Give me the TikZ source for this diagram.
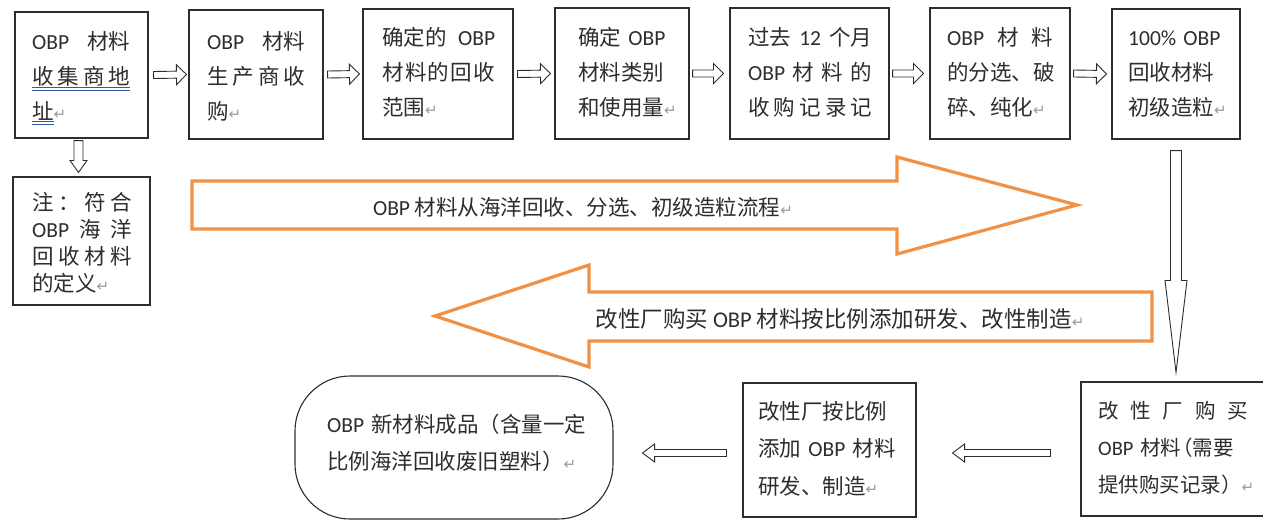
\documentclass[tikz,border=0pt]{standalone}
\usepackage{fontspec}
\setmainfont{Noto Sans CJK SC}
\newfontfamily\lat{Carlito}
\newfontfamily\dv{DejaVu Sans}
\usetikzlibrary{calc}
\definecolor{txt}{RGB}{45,45,45}
\definecolor{edge}{RGB}{45,45,45}
\definecolor{org}{RGB}{240,145,70}
\definecolor{retgray}{RGB}{155,155,155}
\definecolor{ulblue}{RGB}{50,90,160}
\newcommand\rt{{\dv\color{retgray}\fontsize{15pt}{15pt}\selectfont ↵}}
\newcommand\obp{{\lat OBP}}
% box from corner (x1,y1) to (x2,y2), in pixels
\newcommand\bx[6][box]{\node[#1, minimum width=#5pt-#3pt, minimum height=#6pt-#4pt] (#2) at ({(#3+#5)/2},{(#4+#6)/2}) {};}
\newcommand\blockarrow[6][]{%
  \path ($(#3)!#6!(#2)$) coordinate (bahead);
  \draw[#1] ($(#2)!#4!90:(#3)$) -- ($(bahead)!#4!90:(#3)$) -- ($(bahead)!#5!90:(#3)$) -- (#3)
    -- ($(bahead)!#5!-90:(#3)$) -- ($(bahead)!#4!-90:(#3)$) -- ($(#2)!#4!-90:(#3)$) -- cycle;}
\tikzset{
  box/.style={draw=edge, line width=1.1pt, inner sep=0pt},
  termbox/.style={box, rounded corners=55pt},
  tx/.style={anchor=base west, inner sep=0pt, align=left, text=txt,
    font=\fontsize{21.5pt}{35pt}\selectfont},
  notetx/.style={tx, font=\fontsize{21.5pt}{27pt}\selectfont},
  lowtx/.style={tx, font=\fontsize{21.5pt}{37.5pt}\selectfont},
  harrow/.style={draw=edge, line width=0.9pt, fill=white, line join=miter},
  bigarrow/.style={draw=org, line width=3.2pt, line join=miter},
  lbl/.style={text=txt, inner sep=0pt, font=\fontsize{21.5pt}{26pt}\selectfont},
  uline/.style={draw=ulblue, line width=0.8pt},
}
\begin{document}
\begin{tikzpicture}[x=1pt,y=-1pt]
\clip (0,0) rectangle (1263,520);
\fill[white] (0,0) rectangle (1263,520);

% ---- boxes
\bx{b1}{15}{12}{148}{138}
\bx{b2}{189}{10}{323}{139}
\bx{b3}{363}{9}{513}{139}
\bx{b4}{555}{8}{689}{139}
\bx{b5}{730}{8}{889}{139}
\bx{b6}{930}{8}{1070}{139}
\bx{b7}{1112}{9}{1240}{139}
\bx{n1}{13}{177}{150}{305}
\bx{r1}{1081}{382}{1270}{516}
\bx{m1}{743}{383}{916}{517}
\bx[termbox]{t1}{295}{376}{613}{519}

% ---- box texts
\node[tx, text width=98pt] (b1t) at (32,49)
  {\obp\hfill 材料\\收\hfill 集\hfill 商\hfill 地\\址\rt};
\draw[uline] (32,87) -- (130,87) (32,90) -- (130,90);
\draw[uline] (32,121) -- (54,121) (32,124) -- (54,124);
\node[tx, text width=98pt] (b2t) at (207,49)
  {\obp\hfill 材料\\生\hfill 产\hfill 商\hfill 收\\购\rt};
\node[tx, text width=113pt] (b3t) at (382,45)
  {确定的\hfill\obp\\材\hfill 料\hfill 的\hfill 回\hfill 收\\范围\rt};
\node[tx, text width=92pt] (b4t) at (578,45)
  {确定 \obp\\材料类别\\和使用量\rt};
\node[tx, text width=124pt] (b5t) at (748,45)
  {过去\hfill{\lat 12}\hfill 个月\\\obp\hfill 材\hfill 料\hfill 的\\收\hfill 购\hfill 记\hfill 录\hfill 记};
\node[tx, text width=106pt] (b6t) at (947,45)
  {\obp\hfill 材\hfill 料\\的分选、破\\碎、纯化\rt};
\node[tx, text width=100pt] (b7t) at (1128,45)
  {{\lat 100\% OBP}\\回收材料\\初级造粒\rt};
\node[notetx, text width=100pt] (n1t) at (32,210)
  {注\hfill ：\hfill 符\hfill 合\\\obp\hfill 海\hfill 洋\\回\hfill 收\hfill 材\hfill 料\\的定义\rt};
\node[lowtx, font=\fontsize{20.5pt}{37pt}\selectfont, text width=160pt] (r1t) at (1098,418)
  {\makebox[150pt][l]{改\hfill 性\hfill 厂\hfill 购\hfill 买}\\\obp\ 材料\kern-9pt（需要\\提供购买记录）\rt};
\node[lowtx, text width=140pt] (m1t) at (758,419)
  {改性厂按比例\\添加 \obp\ 材料\\研发、制造\rt};
\node[lowtx, text width=270pt] (t1t) at (327,432)
  {\obp\ 新材料成品（含量一定\\比例海洋回收废旧塑料）\rt};

% ---- small hollow arrows, top row
\coordinate (a1s) at ($(b1.east)+(5,0)$);  \coordinate (a1e) at ($(b2.west)+(-2,0)$);
\coordinate (a2s) at ($(b2.east)+(4,0)$);  \coordinate (a2e) at ($(b3.west)+(-3,0)$);
\coordinate (a3s) at ($(b3.east)+(4,0)$);  \coordinate (a3e) at ($(b4.west)+(-4,0)$);
\coordinate (a4s) at ($(b4.east)+(3,0)$);  \coordinate (a4e) at ($(b5.west)+(-6,0)$);
\coordinate (a5s) at ($(b5.east)+(3,0)$);  \coordinate (a5e) at ($(b6.west)+(-6,0)$);
\coordinate (a6s) at ($(b6.east)+(3,0)$);  \coordinate (a6e) at ($(b7.west)+(-5,0)$);
\blockarrow[harrow]{a1s}{a1e}{3.5pt}{10pt}{10pt}
\blockarrow[harrow]{a2s}{a2e}{3.5pt}{10pt}{10pt}
\blockarrow[harrow]{a3s}{a3e}{3.5pt}{10pt}{10pt}
\blockarrow[harrow]{a4s}{a4e}{3.5pt}{10pt}{10pt}
\blockarrow[harrow]{a5s}{a5e}{3.5pt}{10pt}{10pt}
\blockarrow[harrow]{a6s}{a6e}{3.5pt}{10pt}{10pt}

% ---- down arrow to note
\coordinate (d1s) at ($(b1.south)+(-3,2)$);
\coordinate (d1e) at ($(b1.south |- n1.north)+(-3,-4)$);
\blockarrow[harrow]{d1s}{d1e}{4.5pt}{8.5pt}{12pt}

% ---- long down arrow
\coordinate (v1s) at ($(b7.south)+(0,11)$);
\coordinate (v1e) at ($(b7.south |- r1.north)+(0,-9)$);
\blockarrow[harrow]{v1s}{v1e}{5.5pt}{11pt}{92pt}

% ---- bottom arrows
\coordinate (h1s) at ($(r1.west)+(-30,4)$);
\coordinate (h1e) at ($(m1.east |- r1.west)+(36,4)$);
\blockarrow[harrow]{h1s}{h1e}{3.5pt}{9pt}{12pt}
\coordinate (h2s) at ($(m1.west)+(-16,3)$);
\coordinate (h2e) at ($(t1.east |- m1.west)+(29,3)$);
\blockarrow[harrow]{h2s}{h2e}{3.5pt}{9pt}{12pt}

% ---- big orange arrows
\draw[bigarrow] (192,181) -- (897,181) -- (897,157) -- (1077,205) -- (897,254) -- (897,229) -- (192,229) -- cycle;
\node[lbl] (o1) at (583,207) {\obp\ 材料从海洋回收、分选、初级造粒流程\rt};
\draw[bigarrow] (1152,292) -- (589,292) -- (589,265) -- (435,316) -- (589,367) -- (589,341) -- (1152,341) -- cycle;
\node[lbl, font=\fontsize{22.5pt}{26pt}\selectfont] (o2) at (840,319) {改性厂购买 \obp\ 材料按比例添加研发、改性制造\rt};
\end{tikzpicture}
\end{document}
